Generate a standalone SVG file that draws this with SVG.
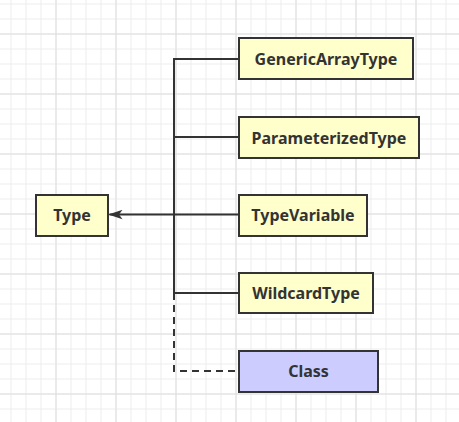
<svg xmlns="http://www.w3.org/2000/svg" width="459" height="422" viewBox="0 0 459 422">
<defs>
<pattern id="minor" x="10.5" y="3.5" width="15" height="15" patternUnits="userSpaceOnUse">
<path d="M0.5 0V15M0 0.5H15" fill="none" stroke="#ececec" stroke-width="1"/>
</pattern>
<pattern id="major" x="55.5" y="33.5" width="60" height="60" patternUnits="userSpaceOnUse">
<path d="M0.5 0V60M0 0.5H60" fill="none" stroke="#dedede" stroke-width="1"/>
</pattern>
<marker id="arrow" viewBox="0 0 14 10" refX="13" refY="5" markerWidth="14" markerHeight="10" markerUnits="userSpaceOnUse" orient="auto">
<path d="M14 5L0 0.3L3.5 5L0 9.7Z" fill="#333"/>
</marker>
</defs>
<style>
.node rect{fill:#ffffcc;stroke:#333;stroke-width:2}
.node.cls rect{fill:#ccccff}
.node text{font-family:"Noto Sans","Open Sans","DejaVu Sans",sans-serif;font-weight:bold;font-size:16px;fill:#333;text-anchor:middle;dominant-baseline:central}
.edge{fill:none;stroke:#333;stroke-width:2}
.dash{stroke-dasharray:7 5}
</style>
<rect width="459" height="422" fill="#fff"/>
<rect width="459" height="422" fill="url(#minor)"/>
<rect width="459" height="422" fill="url(#major)"/>
<g id="connectors">
<path class="edge" d="M239 59H174V293H239"/>
<path class="edge" d="M174 137H239"/>
<path class="edge dash" d="M174 293V371H239"/>
<path class="edge" d="M239 214.5H109.5" marker-end="url(#arrow)"/>
</g>
<g id="type" class="node"><rect x="36" y="195" width="72" height="41"/><text x="72" y="215">Type</text></g>
<g id="genericArrayType" class="node"><rect x="239" y="38" width="174" height="41"/><text x="326" y="58.5">GenericArrayType</text></g>
<g id="parameterizedType" class="node"><rect x="239" y="117" width="180" height="41"/><text x="329" y="137.5">ParameterizedType</text></g>
<g id="typeVariable" class="node"><rect x="239" y="195" width="128" height="41"/><text x="303" y="215">TypeVariable</text></g>
<g id="wildcardType" class="node"><rect x="239" y="273" width="134" height="40"/><text x="306" y="293">WildcardType</text></g>
<g id="class" class="node cls"><rect x="239" y="351" width="139" height="41"/><text x="308.5" y="371">Class</text></g>
</svg>
